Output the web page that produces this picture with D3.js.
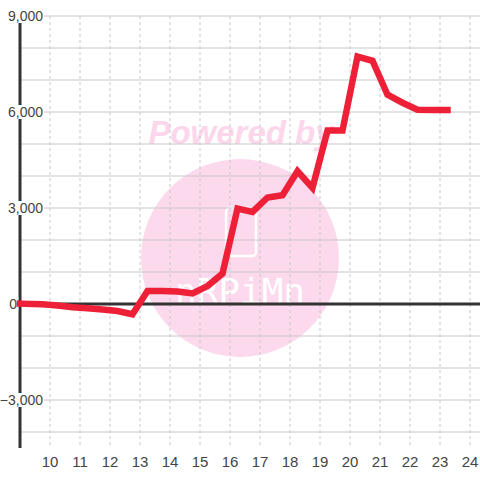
<!DOCTYPE html>
<html>
<head>
<meta charset="utf-8">
<script src="https://cdn.jsdelivr.net/npm/d3@7"></script>
<style>
  html, body { margin: 0; padding: 0; background: #fff; }
  svg { display: block; }
</style>
</head>
<body>
<div id="chart"></div>
<script>
// data
const hours = [9, 9.75, 10.25, 10.75, 11.25, 11.75, 12.25, 12.75, 13.25, 13.75, 14.25, 14.75, 15.25, 15.75,
    16.25, 16.75, 17.25, 17.75, 18.25, 18.75, 19.25, 19.75, 20.25, 20.75, 21.25, 21.75, 22.25, 22.75, 23.25];
const values = [10, -10, -50, -100, -130, -170, -220, -320, 410, 410, 390, 330, 560, 950,
    2980, 2880, 3330, 3400, 4150, 3630, 5420, 5420, 7730, 7600, 6540, 6290, 6070, 6060, 6060];
const xTicks = [10, 11, 12, 13, 14, 15, 16, 17, 18, 19, 20, 21, 22, 23, 24];
const yGrid = [-4000, -3000, -2000, -1000, 0, 1000, 2000, 3000, 4000, 5000, 6000, 7000, 8000, 9000];
const yLabels = [-3000, 0, 3000, 6000, 9000];

const width = 480, height = 480;
const x = d3.scaleLinear().domain([9, 24]).range([20, 470]);
const y = d3.scaleLinear().domain([-4500, 9000]).range([448, 16]);

const svg = d3.select("#chart")
    .append("svg")
    .attr("width", width)
    .attr("height", height);

// watermark
const wm = svg.append("g").attr("class", "watermark");
wm.append("circle")
    .attr("cx", 240).attr("cy", 258).attr("r", 99)
    .style("fill", "#fcd9ed");
wm.append("text")
    .attr("x", 241).attr("y", 144)
    .attr("text-anchor", "middle")
    .style("font-family", "'Liberation Sans', Arial, sans-serif")
    .style("font-weight", "bold")
    .style("font-style", "italic")
    .style("font-size", "33px")
    .style("fill", "#fcd6ea")
    .text("Powered by");
wm.append("rect")
    .attr("x", 226).attr("y", 208).attr("width", 30).attr("height", 48).attr("rx", 4)
    .style("fill", "none").style("stroke", "#fff").style("stroke-width", 2.5);
wm.append("text")
    .attr("x", 240).attr("y", 304)
    .attr("text-anchor", "middle")
    .style("font-family", "'DejaVu Sans Mono', monospace")
    .style("font-size", "36px")
    .style("fill", "#fff")
    .text("nRPiMn");

// horizontal grid
svg.append("g")
    .selectAll("line")
    .data(yGrid.filter(d => d !== 0))
    .enter().append("line")
    .attr("x1", 20).attr("x2", 480)
    .attr("y1", d => y(d)).attr("y2", d => y(d))
    .style("stroke", "#c8c8c8").style("stroke-width", 1);

// vertical dashed grid
svg.append("g")
    .selectAll("line")
    .data(xTicks)
    .enter().append("line")
    .attr("x1", d => x(d)).attr("x2", d => x(d))
    .attr("y1", 16).attr("y2", 448)
    .style("stroke", "#c8c8c8").style("stroke-width", 1)
    .style("stroke-dasharray", "3,3");

// y axis + zero line
svg.append("line")
    .attr("x1", x(9)).attr("x2", x(9))
    .attr("y1", 16).attr("y2", 448)
    .style("stroke", "#333").style("stroke-width", 3);
svg.append("line")
    .attr("x1", x(9)).attr("x2", 480)
    .attr("y1", y(0)).attr("y2", y(0))
    .style("stroke", "#333").style("stroke-width", 3);

// y labels with white boxes
const yl = svg.append("g")
    .selectAll("g")
    .data(yLabels)
    .enter().append("g");
yl.append("rect")
    .attr("class", "bg")
    .style("fill", "#fff");
yl.append("text")
    .attr("x", d => d === 0 ? 17 : 43)
    .attr("y", d => y(d))
    .attr("dy", "0.35em")
    .attr("text-anchor", "end")
    .style("font-family", "'Liberation Sans', Arial, sans-serif")
    .style("font-size", "14px")
    .style("fill", "#444")
    .text(d => d3.format(",")(d));
yl.each(function() {
    const g = d3.select(this);
    const b = g.select("text").node().getBBox();
    g.select("rect")
        .attr("x", b.x - 1).attr("y", y(g.datum()) - 7)
        .attr("width", b.width + 2).attr("height", 14);
});

// x labels
svg.append("g")
    .selectAll("text")
    .data(xTicks)
    .enter().append("text")
    .attr("x", d => x(d))
    .attr("y", 467)
    .attr("text-anchor", "middle")
    .style("font-family", "'Liberation Sans', Arial, sans-serif")
    .style("font-size", "15px")
    .style("fill", "#444")
    .text(d => d);

// data line
const line = d3.line()
    .x((d, i) => x(hours[i]))
    .y(d => y(d));

svg.append("path")
    .datum(values)
    .attr("d", line)
    .style("fill", "none")
    .style("stroke", "#ee2038")
    .style("stroke-width", 6.5)
    .style("stroke-linejoin", "miter")
    .style("stroke-linecap", "square");
</script>
</body>
</html>
